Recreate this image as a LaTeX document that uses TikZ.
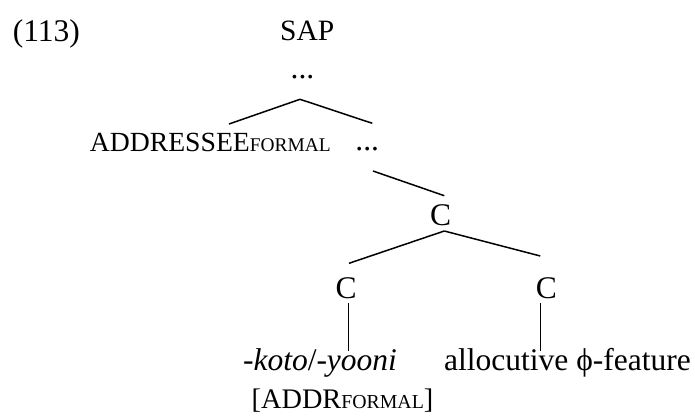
\documentclass[tikz,border=0pt]{standalone}
\usepackage{fontspec}
\setmainfont{Liberation Serif}
\newcommand{\fakeSC}[2][21]{{\fontsize{#1}{#1}\selectfont #2}}

\begin{document}
\begin{tikzpicture}[x=1pt,y=-1pt,font=\fontsize{31.5}{31.5}\selectfont,
  every node/.style={anchor=base, inner sep=0pt},
  branch/.style={line width=1.5pt}]
\useasboundingbox (0,0) rectangle (695,415);
\node (exnum) at (46.3,41.7) {(113)};
\node[font=\fontsize{29.5}{29.5}\selectfont] (sap) at (307.3,40.5) {SAP};
\node (dotsA) at (302.5,78) {...};
\node[font=\fontsize{27.7}{27.7}\selectfont] (addressee) at (210.3,151) {ADDRESSEE\fakeSC[19.4]{FORMAL}};
\node (dotsB) at (367.3,150) {...};
\node (cTop) at (440.7,225) {C};
\node (cLeft) at (346,298) {C};
\node (cRight) at (546.3,298) {C};
\node (koto) at (320,370) {-\textit{koto}/-\textit{yooni}};
\node (alloc) at (567.5,370) {allocutive ϕ-feature};
\node[font=\fontsize{28.3}{28.3}\selectfont] (addrFeat) at (342.5,408.5) {[ADDR\fakeSC[19.8]{FORMAL}]};
% branches
\draw[branch] ([xshift=-2.5pt,yshift=-21.3pt]dotsA.base) -- ([xshift=18.7pt,yshift=27pt]addressee.base);
\draw[branch] ([xshift=-2.5pt,yshift=-21.3pt]dotsA.base) -- ([xshift=5pt,yshift=26.7pt]dotsB.base);
\draw[branch] ([xshift=5.7pt,yshift=-21pt]dotsB.base) -- ([xshift=3.6pt,yshift=29.3pt]cTop.base);
\draw[branch] ([xshift=3.6pt,yshift=-6pt]cTop.base) -- ([xshift=3pt,yshift=34.7pt]cLeft.base);
\draw[branch] ([xshift=3.6pt,yshift=-6pt]cTop.base) -- ([xshift=-6pt,yshift=42pt]cRight.base);
\draw[branch] ([xshift=2.3pt,yshift=-5pt]cLeft.base) -- ([xshift=28.3pt,yshift=19.3pt]koto.base);
\draw[branch] ([xshift=-5.6pt,yshift=-5pt]cRight.base) -- ([xshift=-26.8pt,yshift=19.3pt]alloc.base);
\end{tikzpicture}
\end{document}
